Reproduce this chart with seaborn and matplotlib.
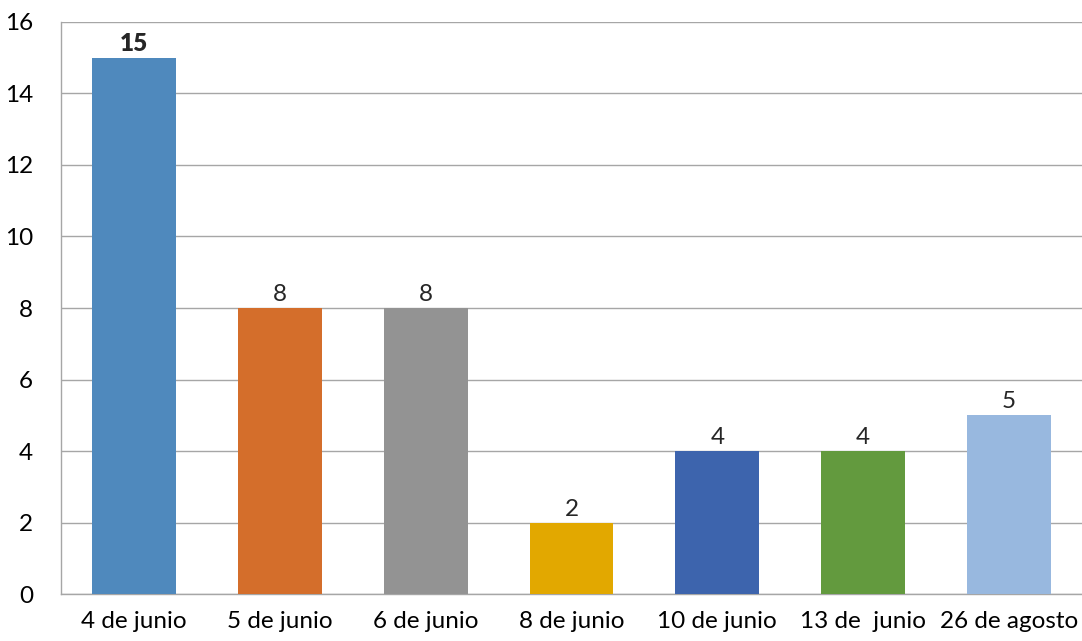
import matplotlib
matplotlib.use("Agg")
import matplotlib.pyplot as plt
import seaborn as sns
import pandas as pd

# Data
fechas = ["4 de junio", "5 de junio", "6 de junio", "8 de junio",
          "10 de junio", "13 de  junio", "26 de agosto"]
valores = [15, 8, 8, 2, 4, 4, 5]
colores = ["#4F89BD", "#D46E2B", "#939393", "#E2A800",
           "#3D64AD", "#639A3E", "#98B8DF"]


def main():
    sns.set_style("white")
    plt.rcParams["font.family"] = ["Lato", "DejaVu Sans"]

    df = pd.DataFrame({"Fecha": fechas, "Valor": valores})

    fig = plt.figure(figsize=(10.82, 6.41), dpi=100)
    ax = fig.add_axes([0.0564, 0.0733, 0.9436, 0.8924])

    sns.barplot(data=df, x="Fecha", y="Valor", hue="Fecha", palette=colores,
                width=0.575, saturation=1, legend=False, ax=ax, zorder=3,
                linewidth=0)

    ax.set_ylim(0, 16)
    ax.set_yticks(range(0, 17, 2))
    ax.set_xlim(-0.5, len(fechas) - 0.5)
    ax.yaxis.grid(True, color="#A6A6A6", linewidth=1, zorder=0)
    ax.set_axisbelow(True)

    for side in ["top", "right"]:
        ax.spines[side].set_visible(False)
    for side in ["left", "bottom"]:
        ax.spines[side].set_color("#A6A6A6")
        ax.spines[side].set_linewidth(1)

    ax.tick_params(axis="both", length=0, labelsize=17.5, colors="black")
    ax.tick_params(axis="y", pad=20)
    ax.tick_params(axis="x", pad=12)
    ax.set_xlabel("")
    ax.set_ylabel("")

    for i, v in enumerate(valores):
        ax.text(i, v + 0.08, str(v), ha="center", va="bottom", fontsize=17.5,
                fontweight="heavy" if i == 0 else "normal")

    fig.savefig("out.png", dpi=100)
    plt.close(fig)


if __name__ == "__main__":
    main()
